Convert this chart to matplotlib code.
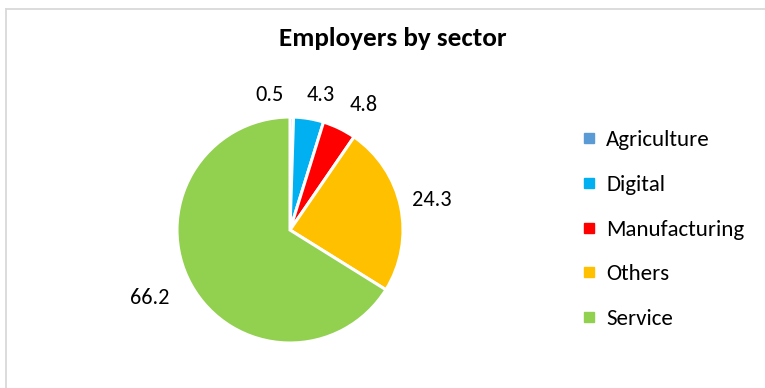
import matplotlib
matplotlib.use("Agg")
import matplotlib.pyplot as plt
from matplotlib.lines import Line2D
import numpy as np

sectors = ["Agriculture", "Digital", "Manufacturing", "Others", "Service"]
shares = [0.5, 4.3, 4.8, 24.3, 66.2]
colors = ["#5B9BD5", "#00B0F0", "#FF0000", "#FFC000", "#92D050"]
title = "Employers by sector"

plt.rcParams["font.family"] = ["Carlito", "Lato", "DejaVu Sans"]

W, H = 765, 388
fig = plt.figure(figsize=(W / 100, H / 100), dpi=100)

# pie axes: centre (290, 230) px, radius 113 px
cx, cy, R = 290, 230, 113
half = 1.5 * R
ax = fig.add_axes([(cx - half) / W, (H - cy - half) / H, 2 * half / W, 2 * half / H])

wedges, _ = ax.pie(shares, colors=colors, startangle=90, counterclock=False,
                   radius=1.0, wedgeprops=dict(edgecolor="white", linewidth=2.2))
ax.set_xlim(-1.5, 1.5)
ax.set_ylim(-1.5, 1.5)
ax.set_aspect("equal")
ax.axis("off")

# value labels placed outside each slice, nudged apart where slices are thin
label_dist = [1.22, 1.22, 1.28, 1.28, 1.37]
label_shift = [(-0.2, -0.025), (0.07, -0.01), (0.09, -0.045), (0.0, 0.0), (-0.04, 0.067)]
for w, v, d, (sx, sy) in zip(wedges, shares, label_dist, label_shift):
    ang = np.deg2rad((w.theta1 + w.theta2) / 2)
    x = d * np.cos(ang) + sx
    y = d * np.sin(ang) + sy
    ax.text(x, y, f"{v:.1f}", ha="center", va="center", fontsize=16,
            color="#000000", clip_on=False)

fig.text(393 / W, 1 - 38 / H, title, ha="center", va="center",
         fontsize=19.5, fontweight="bold", color="#000000")

handles = [Line2D([0], [0], marker="s", linestyle="none", markersize=6.5,
                  markerfacecolor=c, markeredgecolor=c) for c in colors]
fig.legend(handles, sectors, loc="upper left", bbox_to_anchor=(582 / W, 1 - 130 / H),
           frameon=False, fontsize=16.5, labelspacing=1.08, handlelength=0.6,
           handletextpad=0.45, borderpad=0, borderaxespad=0)

# light frame around the chart area
fig.add_artist(Line2D([6.5 / W, 6.5 / W], [0, 1 - 8.5 / H], transform=fig.transFigure,
                      color="#D9D9D9", linewidth=1.3))
fig.add_artist(Line2D([6.5 / W, 1], [1 - 8.5 / H, 1 - 8.5 / H], transform=fig.transFigure,
                      color="#D9D9D9", linewidth=1.3))

fig.savefig("out.png", dpi=100, facecolor="white")
